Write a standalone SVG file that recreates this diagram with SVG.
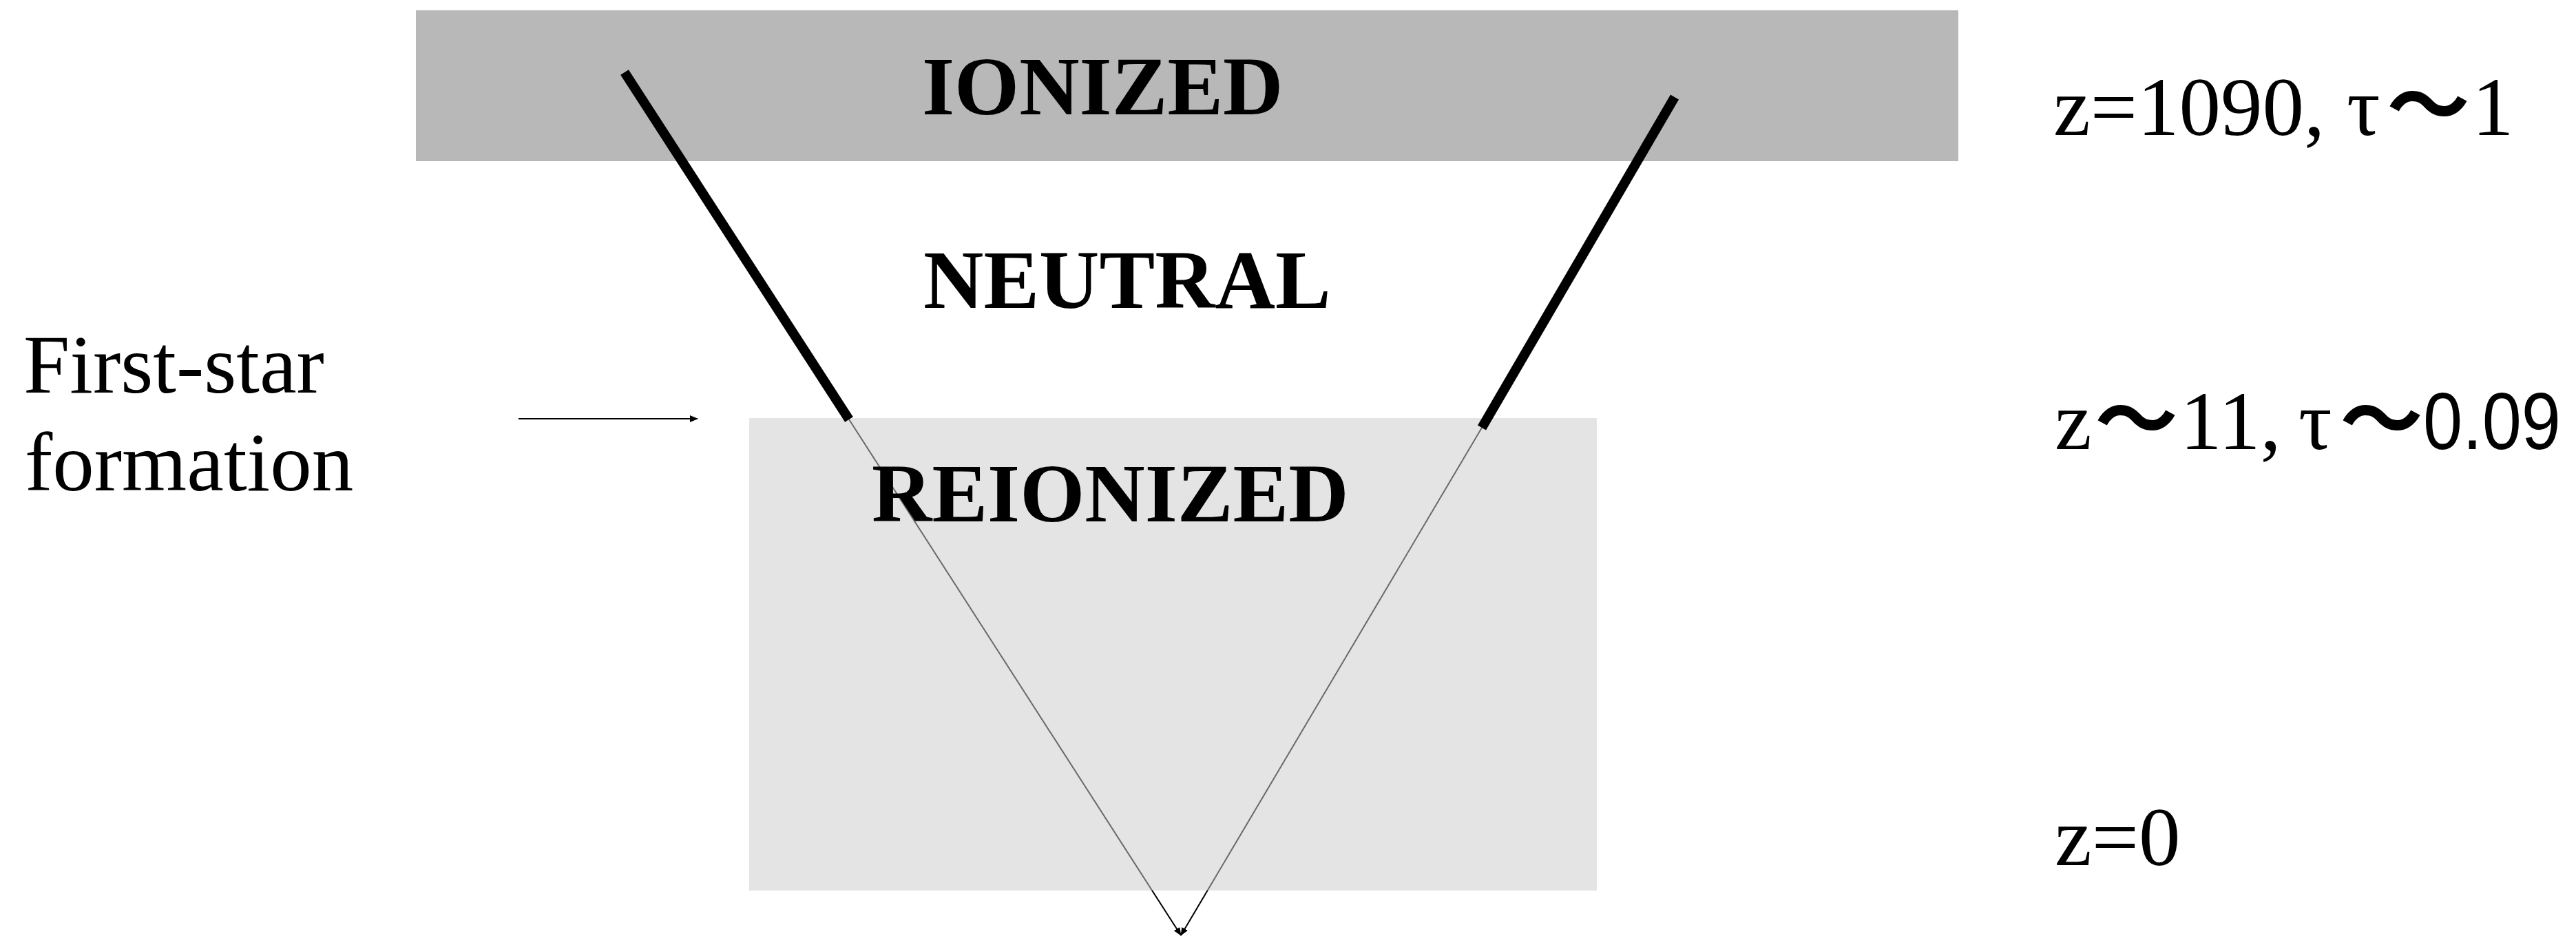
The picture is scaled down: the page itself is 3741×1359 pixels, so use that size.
<svg xmlns="http://www.w3.org/2000/svg" width="3741" height="1359" viewBox="0 0 3741 1359">
<style>
.lbl{font-family:"Liberation Serif","Times New Roman",serif;font-weight:bold;font-size:121px;fill:#000}
.txt{font-family:"Liberation Serif","Times New Roman",serif;font-size:121px;fill:#000}
.sans{font-family:"Liberation Sans",Arial,sans-serif;font-size:117px;fill:#000}
.wave{font-family:"Noto Sans CJK JP","Noto Sans CJK SC",sans-serif;font-weight:bold;font-size:121px;fill:#000}
.thick{stroke:#000;stroke-width:14;fill:none;stroke-linecap:butt}
.thin{stroke:#000;stroke-width:2;fill:none}
</style>
<defs>
<marker id="ah" viewBox="0 0 12 10" refX="11" refY="5" markerWidth="12" markerHeight="10" markerUnits="userSpaceOnUse" orient="auto">
<path d="M0,0 L12,5 L0,10 z" fill="#000"/>
</marker>
</defs>
<rect width="3741" height="1359" fill="#fff"/>
<g id="ionized">
<rect x="604" y="15" width="2240" height="219" fill="#b8b8b8"/>
<text class="lbl" x="1339" y="166">IONIZED</text>
</g>
<g id="neutral">
<text class="lbl" x="1341" y="447">NEUTRAL</text>
</g>
<g id="connectors-thin">
<line class="thin" x1="1233" y1="609" x2="1715" y2="1358" marker-end="url(#ah)"/>
<line class="thin" x1="2152" y1="621" x2="1715" y2="1358" marker-end="url(#ah)"/>
<line class="thin" x1="753" y1="608" x2="1013" y2="608" marker-end="url(#ah)"/>
</g>
<g id="reionized">
<rect x="1088" y="607" width="1231" height="686" fill="#cbcbcb" fill-opacity="0.52"/>
<text class="lbl" x="1266" y="757">REIONIZED</text>
</g>
<g id="connectors-thick">
<line class="thick" x1="907" y1="105" x2="1233" y2="609"/>
<line class="thick" x1="2432" y1="141" x2="2152" y2="621"/>
</g>
<g id="first-star">
<text class="txt" x="34" y="570">First-star</text>
<text class="txt" x="36" y="712">formation</text>
</g>
<g id="z1090">
<text class="txt" x="2982" y="196">z=1090,</text>
<text class="txt" x="3408" y="196">τ</text>
<text class="wave" x="3466" y="196">～</text>
<text class="txt" x="3590" y="196">1</text>
</g>
<g id="z11">
<text class="txt" x="2984" y="652">z</text>
<text class="wave" x="3042" y="652">～</text>
<text class="txt" x="3166" y="652">11,</text>
<text class="txt" x="3338" y="652">τ</text>
<text class="wave" x="3398" y="652">～</text>
<text class="sans" x="3519" y="652" textLength="200" lengthAdjust="spacingAndGlyphs">0.09</text>
</g>
<g id="z0">
<text class="txt" x="2984" y="1256">z=0</text>
</g>
</svg>
